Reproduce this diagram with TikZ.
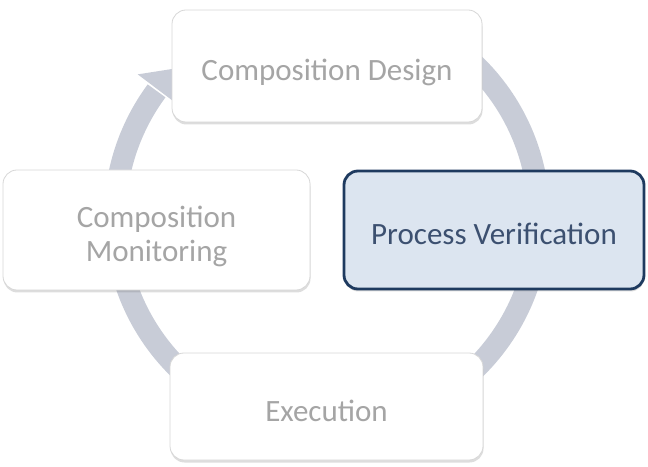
\documentclass[tikz,border=0pt]{standalone}
\usepackage{fontspec}
\setmainfont{Carlito}
\usetikzlibrary{calc,shadows}
\definecolor{ringcol}{RGB}{200,204,215}
\definecolor{fadetext}{RGB}{165,165,165}
\definecolor{boxedge}{RGB}{215,215,215}
\definecolor{verfill}{RGB}{220,229,240}
\definecolor{veredge}{RGB}{30,58,95}
\definecolor{vertext}{RGB}{60,80,112}
\newcommand\boxtext[1]{\raisebox{-8pt}[\height][\depth]{\begin{tabular}{@{}c@{}}#1\end{tabular}}}
\tikzset{
  cyclebox/.style={draw=boxedge, line width=0.8pt, fill=white, rounded corners=14pt,
    align=center, font=\fontsize{31}{34}\selectfont, text=fadetext,
    drop shadow={shadow xshift=0.5pt, shadow yshift=-2.5pt, opacity=0.22, fill=black!60},
    inner sep=0pt},
  activebox/.style={cyclebox, draw=veredge, line width=2.8pt, fill=verfill, text=vertext},
  ringline/.style={draw=ringcol, line width=22pt},
}
\begin{document}
\begin{tikzpicture}[x=1pt,y=1pt]
\useasboundingbox (0,0) rectangle (648,466);
\coordinate (c) at (327,249);
% circular arrow
\draw[ringline] (c) ++(55:212) arc[start angle=55, end angle=-216.5, radius=212];
\fill[ringcol] ($(c)+(143:237)$) -- ($(c)+(135.5:212)$) -- ($(c)+(143:187)$) -- cycle;
% boxes
\node[cyclebox, minimum width=310, minimum height=112] (design) at (327,400) {\boxtext{Composition Design}};
\node[cyclebox, minimum width=307, minimum height=120] (monitor) at (156.5,236) {\boxtext{Composition\\Monitoring}};
\node[activebox, minimum width=300, minimum height=118] (verif) at (494,236) {\boxtext{Process Verification}};
\node[cyclebox, minimum width=313, minimum height=107] (exec) at (326.5,59.5) {\boxtext{Execution}};
\end{tikzpicture}
\end{document}
